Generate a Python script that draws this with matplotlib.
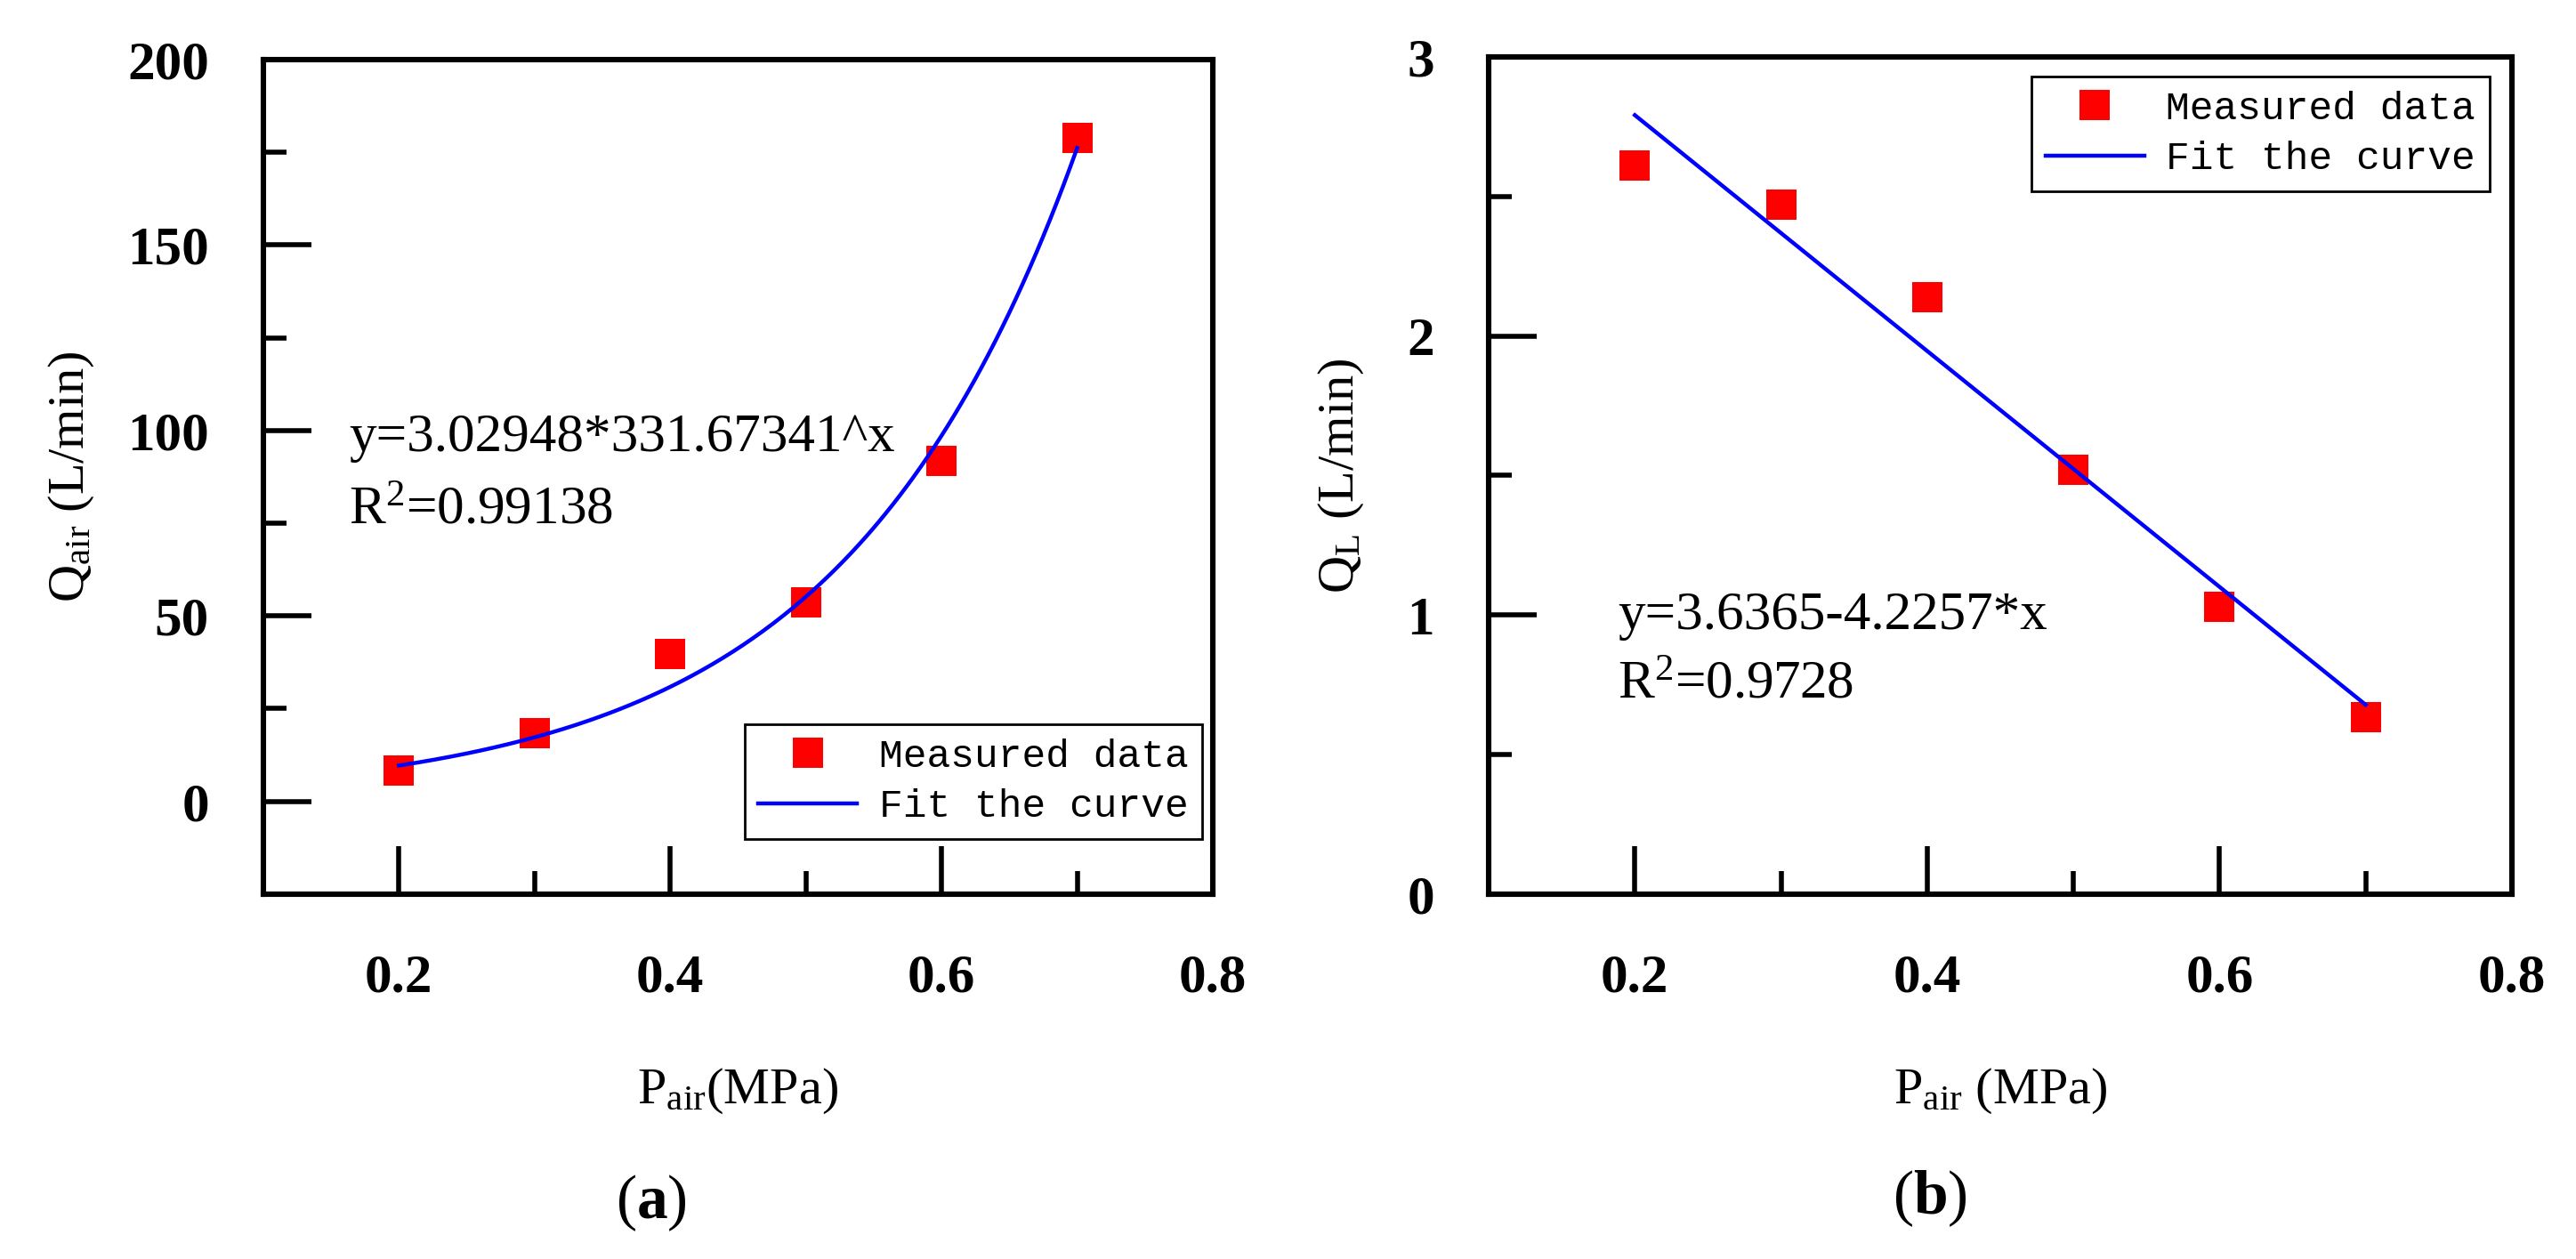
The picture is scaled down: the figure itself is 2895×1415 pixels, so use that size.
import numpy as np
import matplotlib
matplotlib.use('Agg')
import matplotlib.pyplot as plt
from matplotlib.ticker import MultipleLocator

plt.rcParams['font.family'] = 'Liberation Serif'
plt.rcParams['mathtext.fontset'] = 'custom'
plt.rcParams['mathtext.rm'] = 'Liberation Serif'
plt.rcParams['mathtext.it'] = 'Liberation Serif:italic'
plt.rcParams['mathtext.bf'] = 'Liberation Serif:bold'

# measured data
pressure = [0.2, 0.3, 0.4, 0.5, 0.6, 0.7]
q_air = [8.4, 18.5, 39.7, 53.6, 91.8, 178.8]
q_liquid = [2.61, 2.47, 2.14, 1.52, 1.03, 0.635]

# fit coefficients as printed on the chart
exp_a, exp_b = 3.02948, 331.67341
lin_c, lin_k = 3.6365, -4.2257

RED = '#FF0000'
BLUE = '#0000FF'
TICK_FS = 44
LABEL_FS = 42


def style_axes(ax, ymajor, yminor):
    for sp in ax.spines.values():
        sp.set_linewidth(4.4)
    ax.set_xlim(0.1, 0.8)
    ax.xaxis.set_major_locator(MultipleLocator(0.2))
    ax.xaxis.set_minor_locator(MultipleLocator(0.1))
    ax.yaxis.set_major_locator(MultipleLocator(ymajor))
    ax.yaxis.set_minor_locator(MultipleLocator(yminor))
    ax.tick_params(which='both', direction='in', top=False, right=False, width=4.0)
    ax.tick_params(which='major', length=39)
    ax.tick_params(which='minor', length=19)
    ax.tick_params(axis='y', which='major', pad=44)
    ax.tick_params(axis='x', which='major', pad=48)
    for lab in ax.get_xticklabels() + ax.get_yticklabels():
        lab.set_fontsize(TICK_FS)
        lab.set_fontweight('bold')


def add_legend(ax, loc, anchor):
    leg = ax.legend(loc=loc, bbox_to_anchor=anchor, borderaxespad=0,
                    prop={'family': 'Liberation Mono', 'size': 32},
                    frameon=True, fancybox=False, edgecolor='black',
                    handlelength=2.5, handletextpad=0.55, labelspacing=0.35,
                    borderpad=0.35, markerscale=1.0)
    leg.get_frame().set_linewidth(2.0)
    leg.get_frame().set_alpha(1)
    return leg


fig = plt.figure(figsize=(28.95, 14.15), dpi=100)
ax1 = fig.add_axes([0.1022, 0.2898, 0.3686, 0.6629])
ax2 = fig.add_axes([0.5779, 0.2898, 0.3972, 0.6650])

# (a) air flow
xs = np.linspace(pressure[0], pressure[-1], 200)
ax1.plot(pressure, q_air, 's', color=RED, ms=24, mew=0, label='Measured data')
ax1.plot(xs, exp_a * exp_b ** xs, '-', color=BLUE, lw=3.2, label='Fit the curve')
ax1.set_ylim(-25, 200)
style_axes(ax1, 50, 25)
ax1.set_ylabel(r'Q$_{\mathrm{air}}$ (L/min)', fontsize=LABEL_FS, va='center')
ax1.yaxis.set_label_coords(-0.2024, 0.5)
ax1.set_xlabel(r'P$_{\mathrm{air}}$(MPa)', fontsize=LABEL_FS, va='baseline')
ax1.xaxis.set_label_coords(0.5, -0.2505)
ax1.text(0.09, 0.531, 'y=3.02948*331.67341^x', transform=ax1.transAxes,
         fontsize=TICK_FS, va='baseline', ha='left')
ax1.text(0.09, 0.4435, r'R$^{2}$=0.99138', transform=ax1.transAxes,
         fontsize=TICK_FS, va='baseline', ha='left')
add_legend(ax1, 'lower right', (0.9888, 0.066))

# (b) liquid flow
xl = np.array([pressure[0], pressure[-1]])
ax2.plot(pressure, q_liquid, 's', color=RED, ms=24, mew=0, label='Measured data')
ax2.plot(xl, lin_c + lin_k * xl, '-', color=BLUE, lw=3.2, label='Fit the curve')
ax2.set_ylim(0, 3)
style_axes(ax2, 1, 0.5)
ax2.set_ylabel(r'Q$_{\mathrm{L}}$ (L/min)', fontsize=LABEL_FS, va='center')
ax2.yaxis.set_label_coords(-0.144, 0.5)
ax2.set_xlabel(r'P$_{\mathrm{air}}$ (MPa)', fontsize=LABEL_FS, va='baseline')
ax2.xaxis.set_label_coords(0.5, -0.2497)
ax2.text(0.126, 0.317, 'y=3.6365-4.2257*x', transform=ax2.transAxes,
         fontsize=TICK_FS, va='baseline', ha='left')
ax2.text(0.126, 0.234, r'R$^{2}$=0.9728', transform=ax2.transAxes,
         fontsize=TICK_FS, va='baseline', ha='left')
add_legend(ax2, 'upper right', (0.978, 0.9766))

fig.text(0.2528, 0.0445, r'($\mathbf{a}$)', fontsize=50, ha='center', va='center')
fig.text(0.7492, 0.0481, r'($\mathbf{b}$)', fontsize=50, ha='center', va='center')

fig.savefig('out.png', dpi=100)
plt.close(fig)
